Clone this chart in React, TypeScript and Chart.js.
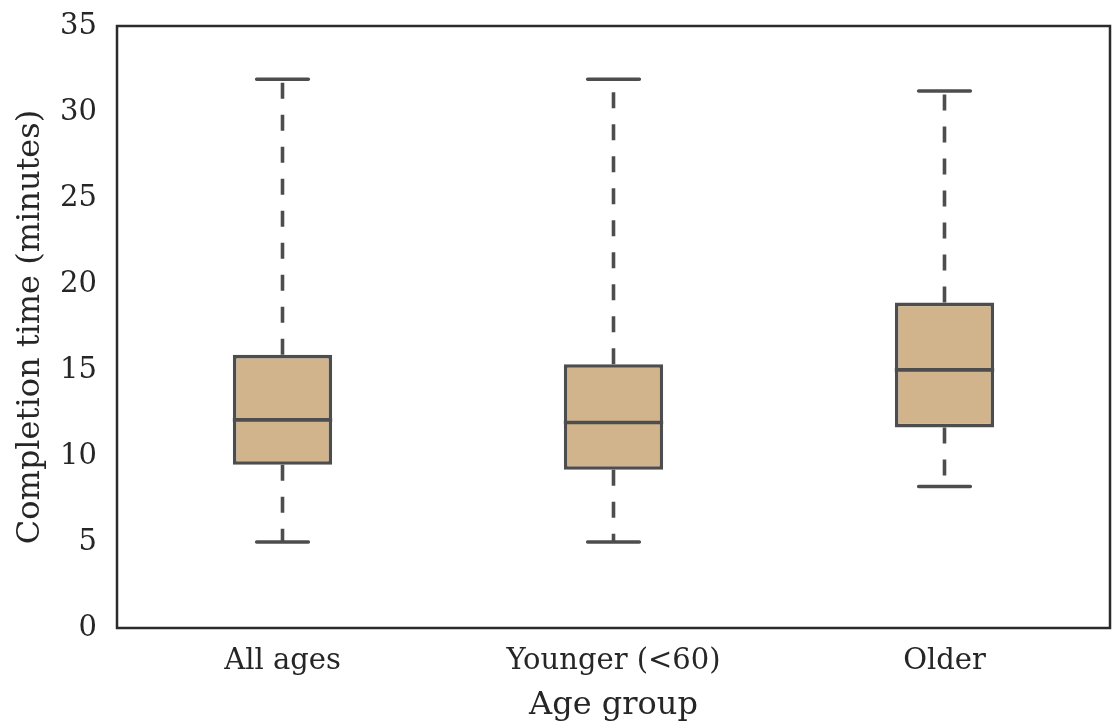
import React, { useEffect, useRef } from "react";
import { Chart, registerables } from "chart.js";

Chart.register(...registerables);

const categories = ["All ages", "Younger (<60)", "Older"];
const whiskerLow = [5.0, 5.0, 8.23];
const q1 = [9.49, 9.2, 11.66];
const median = [12.1, 11.95, 15.01];
const q3 = [15.88, 15.34, 18.92];
const whiskerHigh = [31.9, 31.9, 31.22];
const yTicks = [0, 5, 10, 15, 20, 25, 30, 35];

const LINE = "#4d4d4d";
const FILL = "#d2b48c";
const TEXT = "#262626";
const FONT = "'DejaVu Serif', serif";
const LW = 3.6;

const boxPlugin = {
  id: "boxExtras",
  beforeDatasetsDraw(chart: any) {
    const ctx = chart.ctx;
    const xs = chart.scales.x;
    const ys = chart.scales.y;
    const meta = chart.getDatasetMeta(0);
    ctx.save();
    ctx.strokeStyle = LINE;
    ctx.lineWidth = LW;
    categories.forEach((_, i) => {
      const x = xs.getPixelForValue(i);
      const bw = meta.data[i] ? meta.data[i].width : 100;
      const capHalf = bw * 0.26;
      ctx.setLineDash([16, 16]);
      ctx.lineCap = "butt";
      ctx.beginPath();
      ctx.moveTo(x, ys.getPixelForValue(q1[i]));
      ctx.lineTo(x, ys.getPixelForValue(whiskerLow[i]));
      ctx.moveTo(x, ys.getPixelForValue(q3[i]));
      ctx.lineTo(x, ys.getPixelForValue(whiskerHigh[i]));
      ctx.stroke();
      ctx.setLineDash([]);
      ctx.lineCap = "round";
      ctx.beginPath();
      const yl = ys.getPixelForValue(whiskerLow[i]);
      const yh = ys.getPixelForValue(whiskerHigh[i]);
      ctx.moveTo(x - capHalf, yl);
      ctx.lineTo(x + capHalf, yl);
      ctx.moveTo(x - capHalf, yh);
      ctx.lineTo(x + capHalf, yh);
      ctx.stroke();
    });
    ctx.restore();
  },
  afterDatasetsDraw(chart: any) {
    const ctx = chart.ctx;
    const xs = chart.scales.x;
    const ys = chart.scales.y;
    const meta = chart.getDatasetMeta(0);
    ctx.save();
    ctx.strokeStyle = LINE;
    ctx.lineWidth = LW;
    ctx.lineCap = "butt";
    categories.forEach((_, i) => {
      const x = xs.getPixelForValue(i);
      const bw = meta.data[i] ? meta.data[i].width : 100;
      const y = ys.getPixelForValue(median[i]);
      ctx.beginPath();
      ctx.moveTo(x - bw / 2, y);
      ctx.lineTo(x + bw / 2, y);
      ctx.stroke();
    });
    const a = chart.chartArea;
    ctx.strokeStyle = "#2b2b2b";
    ctx.lineWidth = 2.5;
    ctx.strokeRect(a.left, a.top, a.right - a.left, a.bottom - a.top);
    ctx.restore();
  },
};

export default function App() {
  const ref = useRef<HTMLCanvasElement>(null);
  useEffect(() => {
    document.body.style.margin = "0";
    const chart = new Chart(ref.current as HTMLCanvasElement, {
      type: "bar",
      data: {
        labels: categories,
        datasets: [
          {
            data: categories.map((_, i) => [q1[i], q3[i]]) as any,
            backgroundColor: FILL,
            borderColor: LINE,
            borderWidth: LW,
            borderSkipped: false,
            categoryPercentage: 1,
            barPercentage: 0.3,
          },
        ],
      },
      options: {
        animation: false,
        responsive: false,
        layout: { padding: { top: 26, right: 2, left: 0, bottom: 0 } },
        plugins: { legend: { display: false }, tooltip: { enabled: false } },
        scales: {
          x: {
            grid: { display: false, drawTicks: false },
            border: { display: false },
            ticks: { color: TEXT, font: { family: FONT, size: 29 }, padding: 16 },
            title: {
              display: true,
              text: "Age group",
              color: TEXT,
              font: { family: FONT, size: 32 },
              padding: { top: 0, bottom: -3 },
            },
            afterFit: (s: any) => {
              s.height = 94;
              s.paddingLeft = 0;
              s.paddingRight = 0;
            },
          },
          y: {
            min: 0,
            max: 35,
            grid: { display: false, drawTicks: false },
            border: { display: false },
            afterBuildTicks: (s: any) => {
              s.ticks = yTicks.map((v) => ({ value: v }));
            },
            ticks: { color: TEXT, font: { family: FONT, size: 29 }, padding: 20 },
            title: {
              display: true,
              text: "Completion time (minutes)",
              color: TEXT,
              font: { family: FONT, size: 32 },
              padding: { top: 11, bottom: 0 },
            },
            afterFit: (s: any) => {
              s.width = 117;
              s.paddingTop = 0;
              s.paddingBottom = 0;
            },
          },
        },
      },
      plugins: [boxPlugin],
    });
    return () => chart.destroy();
  }, []);
  return (
    <div style={{ position: "absolute", left: 0, top: 0, width: 1112, height: 722 }}>
      <canvas ref={ref} width={1112} height={722} style={{ width: 1112, height: 722 }} />
    </div>
  );
}
